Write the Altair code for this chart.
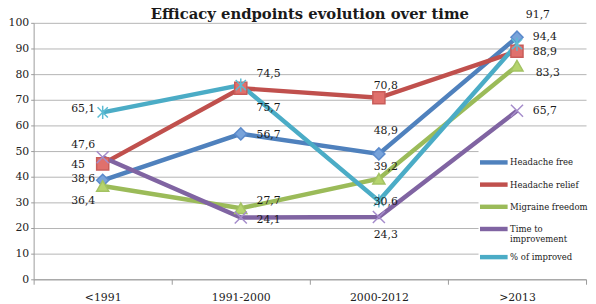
import altair as alt
import pandas as pd

periods = ["<1991", "1991-2000", "2000-2012", ">2013"]
series_names = ["Headache free", "Headache relief", "Migraine freedom",
                "Time to improvement", "% of improved"]
headache_free = [38.6, 56.7, 48.9, 94.4]
headache_relief = [45.0, 74.5, 70.8, 88.9]
migraine_freedom = [36.4, 27.7, 39.2, 83.3]
time_to_improvement = [47.6, 24.1, 24.3, 65.7]
pct_improved = [65.1, 75.7, 30.6, 91.7]
y_ticks = list(range(0, 101, 10))

# styles
line_colors = ["#4F81BD", "#C0504D", "#9BBB59", "#8064A2", "#4BACC6"]
marker_fills = ["#78A3DA", "#E0706C", "#B5D46D", "#A08AC4", "#6CC4DA"]
marker_strokes = ["#5B8ACB", "#C85C59", "#A3C263", "#A58CCB", "#5BBBD3"]
marker_shapes = ["diamond", "square", "triangle-up",
                 "M-1,-1L1,1M-1,1L1,-1",
                 "M-0.85,-0.85L0.85,0.85M-0.85,0.85L0.85,-0.85M0,-1.1L0,1.1"]

# label placement offsets (dx, dy, align) per series per period
label_place = {
    "Headache free": [(-32, -1, "left"), (16, 1.5, "left"), (7, -23, "center"), (16, 0, "left")],
    "Headache relief": [(-32, 1, "left"), (16, -14, "left"), (7, -12, "center"), (16, 1, "left")],
    "Migraine freedom": [(-32, 15.5, "left"), (16, -7, "left"), (7, -12, "center"), (19, 7, "left")],
    "Time to improvement": [(-32, -12, "left"), (16, 3, "left"), (7, 18, "center"), (16, 0, "left")],
    "% of improved": [(-32, -3.5, "left"), (16, 23, "left"), (7, 1.5, "center"), (9, -29, "left")],
}

values = [headache_free, headache_relief, migraine_freedom, time_to_improvement, pct_improved]
rows = []
for name, vals in zip(series_names, values):
    for p, v, (dx, dy, al) in zip(periods, vals, label_place[name]):
        rows.append(dict(series=name, marker="m:" + name, period=p, value=v,
                         dx=dx, dy=dy, align=al))
df = pd.DataFrame(rows)
marker_domain = ["m:" + n for n in series_names]

FONT = "DejaVu Serif"

x = alt.X("period:N", sort=periods,
          scale=alt.Scale(type="band", domain=periods, paddingInner=0, paddingOuter=0),
          bandPosition=0.5,
          axis=alt.Axis(title=None, tickBand="extent", labelAngle=0, grid=False,
                        domainColor="#9a9a9a", tickColor="#9a9a9a", tickSize=5,
                        labelFont=FONT, labelFontSize=11, labelColor="#222222",
                        labelPadding=7))
y = alt.Y("value:Q", scale=alt.Scale(domain=[0, 100], nice=False),
          axis=alt.Axis(title=None, values=y_ticks, grid=True, gridColor="#b4b4b4",
                        domainColor="#9a9a9a", tickColor="#9a9a9a", tickSize=3,
                        labelFont=FONT, labelFontSize=11, labelColor="#222222",
                        labelPadding=2))

base = alt.Chart(df)

lines = base.mark_line(strokeWidth=4.5).encode(
    x=x, y=y,
    color=alt.Color("series:N",
                    scale=alt.Scale(domain=series_names, range=line_colors),
                    legend=alt.Legend(title=None, orient="none", legendX=451, legendY=126,
                                      symbolType="M-1.75,0H1.75", symbolSize=256,
                                      symbolStrokeWidth=4.5, labelFont=FONT,
                                      labelFontSize=8.6, labelColor="#1a1a1a",
                                      labelOffset=6, rowPadding=2.5, padding=5,
                                      fillColor="white", labelLimit=200,
                                      labelExpr="datum.label == 'Time to improvement' ? ['Time to', 'improvement'] : datum.label")),
)

points = base.mark_point(filled=True, size=150, strokeWidth=1.5, opacity=1).encode(
    x=x, y=y,
    shape=alt.Shape("marker:N", scale=alt.Scale(domain=marker_domain, range=marker_shapes), legend=None),
    fill=alt.Fill("marker:N", scale=alt.Scale(domain=marker_domain, range=marker_fills), legend=None),
    stroke=alt.Stroke("marker:N", scale=alt.Scale(domain=marker_domain, range=marker_strokes), legend=None),
)

labels = base.transform_calculate(
    label="replace(toString(datum.value), '.', ',')"
).mark_text(font=FONT, fontSize=11, color="#1a1a1a", baseline="middle",
            dx={"expr": "datum.dx"}, dy={"expr": "datum.dy"},
            align={"expr": "datum.align"}).encode(
    x=x, y=y, text="label:N")

chart = alt.layer(lines, points, labels).properties(
    width=560, height=260,
    title=alt.TitleParams("Efficacy endpoints evolution over time", font=FONT,
                          fontSize=15, fontWeight="bold", color="#1a1a1a",
                          anchor="middle", dx=0, dy=27, offset=2,
                          baseline="alphabetic"),
    autosize=alt.AutoSizeParams(type="none"),
    padding={"left": 26, "top": 13, "right": 2, "bottom": 24},
).configure_view(stroke=None)

chart.save("out.html", embed_options={"renderer": "svg", "actions": False})
